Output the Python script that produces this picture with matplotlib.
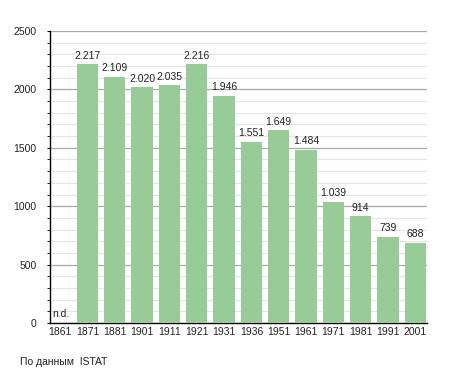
import matplotlib
matplotlib.use("Agg")
import matplotlib.pyplot as plt
from matplotlib.ticker import MultipleLocator

plt.rcParams["font.family"] = ["Liberation Sans", "DejaVu Sans"]

years = ["1861", "1871", "1881", "1901", "1911", "1921", "1931", "1936",
         "1951", "1961", "1971", "1981", "1991", "2001"]
population = [None, 2217, 2109, 2020, 2035, 2216, 1946, 1551,
              1649, 1484, 1039, 914, 739, 688]
source_note = "По данным  ISTAT"

fig = plt.figure(figsize=(4.55, 3.73), dpi=100)
ax = fig.add_axes([50/455, 50/373, 376.5/455, 292/373])

x = list(range(len(years)))
for i, v in enumerate(population):
    if v is None:
        ax.annotate("n.d.", xy=(-0.37, 0), xytext=(1.5, 3), textcoords="offset points",
                    fontsize=7.5, ha="left", va="bottom", color="#222222")
        continue
    ax.bar(i, v, width=0.78, color="#98cb98", zorder=3)
    ax.annotate(f"{v:,}".replace(",", "."), xy=(i, v), xytext=(0, 2.5),
                textcoords="offset points", ha="center", va="bottom",
                fontsize=7.5, color="#222222", zorder=4)

ax.set_xlim(-0.37, 13.41)
ax.set_ylim(0, 2500)
ax.set_xticks(x)
ax.set_xticklabels(years, fontsize=7.5, color="#222222")
ax.tick_params(axis="x", length=0, pad=3)
ax.yaxis.set_major_locator(MultipleLocator(500))
ax.yaxis.set_minor_locator(MultipleLocator(100))
ax.tick_params(axis="y", which="major", length=2.5, labelsize=7.5, pad=7, labelcolor="#222222")
ax.tick_params(axis="y", which="minor", length=2.5)
ax.grid(axis="y", which="major", color="#aaaaaa", linewidth=0.9, zorder=1)
ax.grid(axis="y", which="minor", color="#e4e4e4", linewidth=0.8, zorder=1)
for s in ["top", "right"]:
    ax.spines[s].set_visible(False)
ax.spines["left"].set_linewidth(1.0)
ax.spines["bottom"].set_linewidth(1.0)

fig.text(20/455, 1 - 362/373, source_note, fontsize=7.5, ha="left", va="center", color="#222222")

fig.savefig("out.png", dpi=100)
